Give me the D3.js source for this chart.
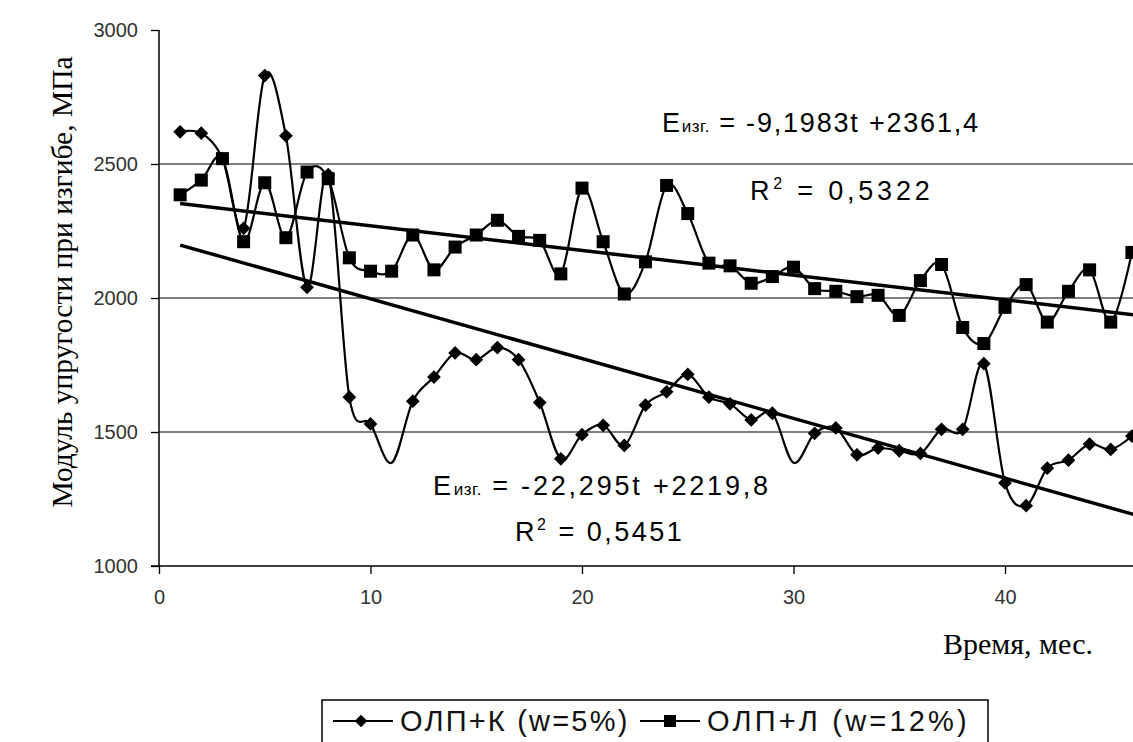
<!DOCTYPE html>
<html><head><meta charset="utf-8">
<script src="https://cdn.jsdelivr.net/npm/d3@7"></script>
<style>
body{margin:0;background:#fff;}
svg{display:block;}
</style></head>
<body><svg id="c" width="1133" height="742"></svg>
<script>
// ---- data ----
const months = [1,2,3,4,5,6,7,8,9,10,11,12,13,14,15,16,17,18,19,20,21,22,23,24,25,26,27,28,29,30,31,32,33,34,35,36,37,38,39,40,41,42,43,44,45,46];
const seriesK = [2620,2615,2520,2260,2830,2605,2040,2460,1630,1530,1385,1615,1705,1795,1770,1815,1770,1610,1400,1490,1525,1450,1600,1650,1715,1630,1605,1545,1570,1385,1495,1515,1415,1440,1430,1420,1510,1510,1755,1310,1225,1365,1395,1455,1435,1485];
const seriesL = [2385,2440,2520,2210,2430,2225,2470,2445,2150,2100,2100,2235,2105,2190,2235,2290,2230,2215,2090,2410,2210,2015,2135,2420,2315,2130,2120,2055,2080,2115,2035,2025,2005,2010,1935,2065,2125,1890,1830,1965,2050,1910,2025,2105,1910,2170];
const hiddenMarkersK = [11,30];
const trendK = {slope:-22.295, intercept:2219.8};
const trendL = {slope:-9.1983, intercept:2361.4};
const yTicks = [1000,1500,2000,2500,3000];
const xTicks = [0,10,20,30,40];
const gridValues = [1500,2000,2500];
const legendLabels = ["ОЛП+К (w=5%)","ОЛП+Л (w=12%)"];

const W=1133,H=742;
const SANS="Liberation Sans, Arial, sans-serif";
const SERIF="Liberation Serif, Times New Roman, serif";
const svg=d3.select("#c");
const x=d3.scaleLinear().domain([0,50]).range([159,159+21.15*50]);
const y=d3.scaleLinear().domain([1000,3000]).range([566,30]);

// grid
svg.append("g").selectAll("line").data(gridValues).join("line")
  .attr("x1",x(0)).attr("x2",W).attr("y1",d=>y(d)).attr("y2",d=>y(d))
  .attr("stroke","#000").attr("stroke-width",1.2);

// y axis
const ya=svg.append("g").attr("transform",`translate(${x(0)},0)`)
  .call(d3.axisLeft(y).tickValues(yTicks).tickSize(8).tickPadding(13).tickFormat(d3.format("d")));
ya.select(".domain").remove();
ya.append("line").attr("x1",0).attr("x2",0).attr("y1",y(3000)).attr("y2",y(1000)).attr("stroke","#000").attr("stroke-width",1.5);
ya.selectAll(".tick line").attr("stroke","#000").attr("stroke-width",1.3);
ya.selectAll(".tick text").style("font-size","20px").style("font-family",SANS).attr("fill","#333");

// x axis
const xa=svg.append("g").attr("transform",`translate(0,${y(1000)})`)
  .call(d3.axisBottom(x).tickValues(xTicks).tickSize(8).tickPadding(16));
xa.select(".domain").remove();
xa.append("line").attr("x1",x(0)-8).attr("x2",W).attr("y1",0).attr("y2",0).attr("stroke","#000").attr("stroke-width",1.5);
xa.selectAll(".tick line").attr("stroke","#000").attr("stroke-width",1.3);
xa.selectAll(".tick text").style("font-size","20px").style("font-family",SANS).attr("fill","#333");

// axis titles
svg.append("text").attr("transform",`translate(72,${(y(3000)+y(1000))/2-16}) rotate(-90)`)
  .attr("text-anchor","middle").style("font-family",SERIF)
  .style("font-size","29.5px").text("Модуль упругости при изгибе, МПа");
svg.append("text").attr("x",1018).attr("y",654).attr("text-anchor","middle")
  .style("font-family",SERIF).style("font-size","30px").text("Время, мес.");

// trend lines
[trendK,trendL].forEach(tr=>{
  svg.append("line").attr("x1",x(1)).attr("y1",y(tr.intercept+tr.slope*1))
    .attr("x2",x(50)).attr("y2",y(tr.intercept+tr.slope*50))
    .attr("stroke","#000").attr("stroke-width",3.5);
});

// series lines
const line=d3.line().x(d=>x(d[0])).y(d=>y(d[1])).curve(d3.curveCatmullRom.alpha(0));
const dK=months.map((m,i)=>[m,seriesK[i]]);
const dL=months.map((m,i)=>[m,seriesL[i]]);
svg.append("path").attr("d",line(dK)).attr("fill","none").attr("stroke","#000").attr("stroke-width",2.2);
svg.append("path").attr("d",line(dL)).attr("fill","none").attr("stroke","#000").attr("stroke-width",2.2);

// markers
svg.append("g").selectAll("path").data(dK.filter(d=>!hiddenMarkersK.includes(d[0]))).join("path")
  .attr("d",d3.symbol().type(d3.symbolSquare).size(95))
  .attr("transform",d=>`translate(${x(d[0])},${y(d[1])}) rotate(45)`).attr("fill","#000");
svg.append("g").selectAll("rect").data(dL).join("rect")
  .attr("x",d=>x(d[0])-6.5).attr("y",d=>y(d[1])-6.5).attr("width",13).attr("height",13).attr("fill","#000");

// equations
function eq(xp,yp,rest,ls){
  const t=svg.append("text").attr("x",xp).attr("y",yp).style("font-family",SANS)
    .style("font-size","27px").style("letter-spacing",ls+"px").attr("fill","#000");
  t.append("tspan").text("E");
  t.append("tspan").style("font-size","17px").style("letter-spacing","0.5px").text("изг.");
  t.append("tspan").text(" = "+rest);
}
function r2(xp,yp,val,ls){
  const t=svg.append("text").attr("x",xp).attr("y",yp).style("font-family",SANS)
    .style("font-size","27px").style("letter-spacing",ls+"px").attr("fill","#000");
  t.append("tspan").text("R");
  t.append("tspan").style("font-size","16px").attr("dy",-11).text("2");
  t.append("tspan").attr("dy",11).text(" = "+val);
}
eq(662,132,"-9,1983t +2361,4",1.8);
r2(750,200,"0,5322",3.8);
eq(433,495,"-22,295t +2219,8",2.8);
r2(515,541,"0,5451",2.5);

// legend
const lg=svg.append("g");
lg.append("rect").attr("x",322).attr("y",700).attr("width",666).attr("height",70)
  .attr("fill","#fff").attr("stroke","#000").attr("stroke-width",1.5);
const items=[{x0:333,tx:400,label:legendLabels[0],type:"d"},{x0:640,tx:707,label:legendLabels[1],type:"s"}];
items.forEach(it=>{
  lg.append("line").attr("x1",it.x0).attr("x2",it.x0+60).attr("y1",721).attr("y2",721).attr("stroke","#000").attr("stroke-width",2.2);
  if(it.type==="d"){
    lg.append("path").attr("d",d3.symbol().type(d3.symbolSquare).size(80)).attr("transform",`translate(${it.x0+28},721) rotate(45)`).attr("fill","#000");
  } else {
    lg.append("rect").attr("x",it.x0+24).attr("y",715).attr("width",12).attr("height",12).attr("fill","#000");
  }
  lg.append("text").attr("x",it.tx).attr("y",731).style("font-family",SANS).style("font-size","29px")
    .style("letter-spacing",(it.type==="d"?2.2:3.2)+"px").attr("fill","#111").text(it.label);
});
</script></body></html>
